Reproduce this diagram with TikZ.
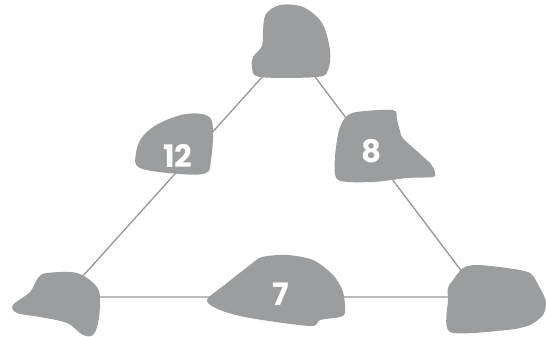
\documentclass[tikz,border=0pt]{standalone}
\usepackage{fontspec}
\setmainfont{Poppins}
\definecolor{blobcol}{RGB}{156,157,159}
\definecolor{edgecol}{RGB}{150,150,150}
\begin{document}
\begin{tikzpicture}[x=1pt,y=-1pt,
  blob/.style={fill=blobcol},
  edge/.style={draw=edgecol,line width=1.3pt},
  num/.style={text=white,font=\bfseries\fontsize{31}{31}\selectfont,inner sep=0pt}]
\useasboundingbox (0,0) rectangle (546,337);
\coordinate (top) at (291,45);
\coordinate (bl) at (64,297);
\coordinate (br) at (481,297);
\draw[edge] (top) -- (bl) -- (br) -- cycle;
% top blob
\fill[blob] plot[smooth cycle,tension=0.55] coordinates {(280,5) (303,7) (322,23) (330,50) (328,70) (317,77) (260,77) (252,67) (253,57) (262,46) (263,30) (266,14)};
% 12 blob
\fill[blob] plot[smooth cycle,tension=0.6] coordinates {(186,114) (208,116) (213,130) (211,160) (206,173) (180,174) (140,168) (136,153) (143,136) (160,123)};
% 8 blob
\fill[blob] plot[smooth cycle,tension=0.45] coordinates {(352,113) (393,110) (397,120) (402,137) (410,145) (430,163) (435,172) (433,177) (407,178) (373,182) (338,180) (335,157) (340,127)};
% 7 blob
\fill[blob] plot[smooth cycle,tension=0.5] coordinates {(262,257) (287,255) (313,260) (333,275) (343,292) (345,312) (340,317) (320,320) (310,326) (250,318) (220,310) (207,300) (227,283) (250,265)};
% bottom-left blob
\fill[blob] plot[smooth cycle,tension=0.55] coordinates {(47,273) (77,273) (97,287) (100,303) (98,323) (93,335) (83,335) (67,323) (40,317) (17,313) (13,305) (30,292) (38,278)};
% bottom-right blob
\fill[blob] plot[smooth cycle,tension=0.45] coordinates {(463,268) (477,265) (507,268) (530,273) (540,288) (546,302) (543,315) (530,325) (507,330) (450,332) (448,300) (448,288) (453,280)};
\node[num] (n12) at (178,156) {12};
\node[num] (n8) at (372,151) {8};
\node[num] (n7) at (281,294) {7};
\end{tikzpicture}
\end{document}
